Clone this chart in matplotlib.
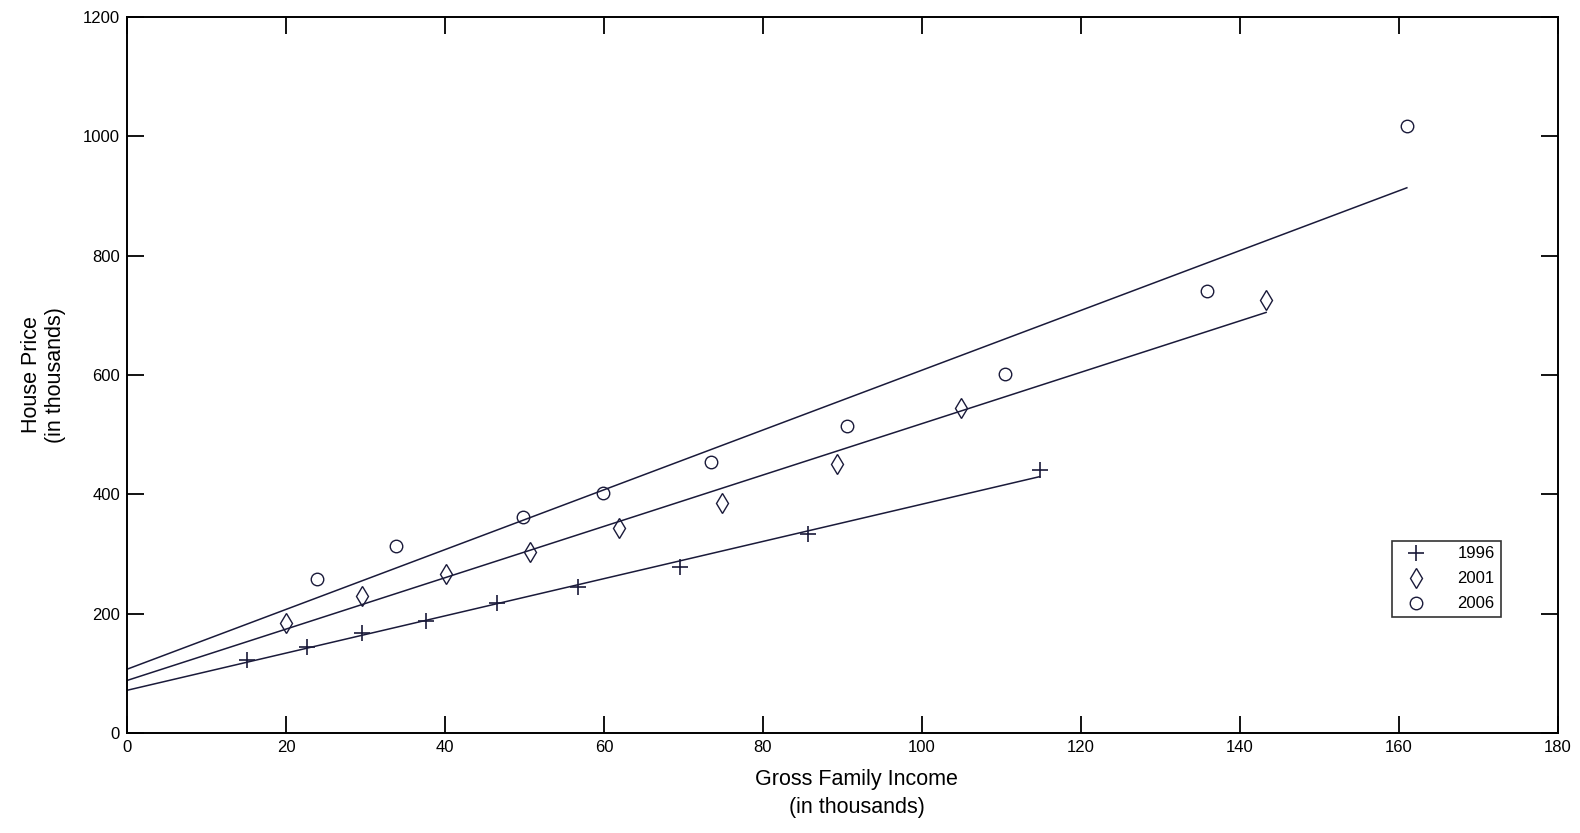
import numpy as np
import matplotlib
matplotlib.use("Agg")
import matplotlib.pyplot as plt

# Data (thousands)
x1996 = [15.1, 22.6, 29.5, 37.6, 46.6, 56.7, 69.6, 85.7, 114.8]
y1996 = [122, 145, 167, 188, 218, 244, 278, 334, 440]

x2001 = [20.0, 29.5, 40.1, 50.7, 61.9, 74.8, 89.3, 104.9, 143.3]
y2001 = [185, 230, 267, 304, 344, 386, 451, 545, 726]

x2006 = [23.9, 33.8, 49.8, 59.9, 73.4, 90.6, 110.5, 135.9, 161.0]
y2006 = [258, 314, 362, 402, 455, 515, 601, 741, 1017]

series_labels = ["1996", "2001", "2006"]
markers = ["+", "D", "o"]
xticks = [0, 20, 40, 60, 80, 100, 120, 140, 160, 180]
yticks = [0, 200, 400, 600, 800, 1000, 1200]

col = "#1a1a3a"
tickfont = ["Liberation Sans", "DejaVu Sans"]
tsize = 12
labfont = ["Liberation Sans", "DejaVu Sans"]

fig = plt.figure(figsize=(15.8, 8.33), dpi=100)
ax = fig.add_axes([0.0804, 0.12, 0.9056, 0.8596])

data = [(x1996, y1996), (x2001, y2001), (x2006, y2006)]
handles = []
for (xs, ys), lab, m in zip(data, series_labels, markers):
    xs = np.array(xs); ys = np.array(ys)
    if m == "+":
        h, = ax.plot(xs, ys, linestyle="none", marker="+", ms=11, mew=1.2,
                     color=col, label=lab)
    elif m == "D":
        h, = ax.plot(xs, ys, linestyle="none", marker="d", ms=10, mew=1.0,
                     mfc="none", mec=col, label=lab)
    else:
        h, = ax.plot(xs, ys, linestyle="none", marker="o", ms=9, mew=1.0,
                     mfc="none", mec=col, label=lab)
    handles.append(h)
    slope, icpt = np.polyfit(xs, ys, 1)
    xl = np.array([0, xs.max()])
    ax.plot(xl, icpt + slope * xl, color=col, lw=1.1)

ax.set_xlim(0, 180)
ax.set_ylim(0, 1200)
ax.set_xticks(xticks)
ax.set_yticks(yticks)
ax.set_xticklabels([str(t) for t in xticks], family=tickfont, fontsize=tsize)
ax.set_yticklabels([str(t) for t in yticks], family=tickfont, fontsize=tsize)
ax.tick_params(direction="in", length=12, width=1.3, top=True, right=True,
               colors="black", pad=5)
for s in ax.spines.values():
    s.set_linewidth(1.4)

ax.set_xlabel("Gross Family Income\n(in thousands)", family=labfont,
              fontsize=15.5, linespacing=1.45)
ax.xaxis.set_label_coords(0.51, -0.050, transform=ax.transAxes)
ax.xaxis.label.set_verticalalignment("top")
ax.set_ylabel("House Price\n(in thousands)", family=labfont,
              fontsize=15.5, linespacing=1.2, labelpad=12)

leg = ax.legend(handles=handles, loc="lower left",
                bbox_to_anchor=(0.878, 0.150, 0.088, 0.125), mode="expand",
                frameon=True, fancybox=False, edgecolor="black",
                prop={"family": tickfont, "size": tsize}, handlelength=2.2,
                handletextpad=1.4, borderpad=0.35, labelspacing=0.6)
leg.get_frame().set_linewidth(1.2)

fig.savefig("out.png", dpi=100, facecolor="white")
